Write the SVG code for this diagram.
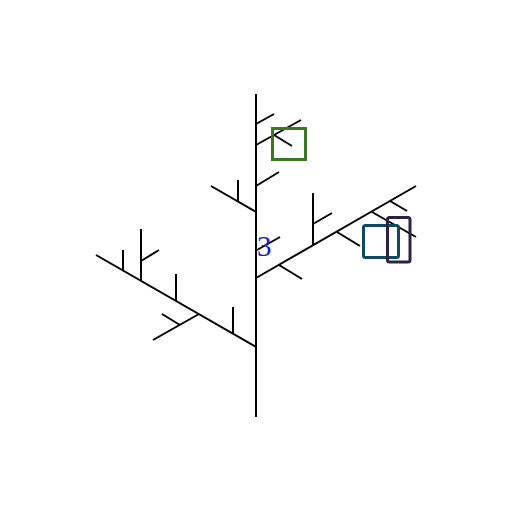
<svg xmlns="http://www.w3.org/2000/svg" width="512" height="512" viewBox="0 0 512 512">
<style>
.t{stroke:#000;stroke-width:2;fill:none;stroke-linecap:butt}
.box{fill:none;stroke-width:3}
</style>
<rect width="512" height="512" fill="#fff"/>
<g id="tree" class="t">
<line x1="256" y1="94" x2="256" y2="417"/>
<line x1="256" y1="124" x2="274" y2="114"/>
<line x1="256" y1="145" x2="301" y2="120"/>
<line x1="274" y1="135" x2="292" y2="146"/>
<line x1="256" y1="186" x2="279" y2="172"/>
<line x1="256" y1="212" x2="211" y2="186"/>
<line x1="238" y1="180" x2="238" y2="202"/>
<line x1="257" y1="250" x2="280" y2="237"/>
<line x1="256" y1="278" x2="416" y2="186"/>
<line x1="279" y1="265" x2="302" y2="279"/>
<line x1="313" y1="193" x2="313" y2="245"/>
<line x1="313" y1="224" x2="332" y2="213"/>
<line x1="337" y1="232" x2="360" y2="246"/>
<line x1="372" y1="212" x2="416" y2="237"/>
<line x1="390" y1="201" x2="407" y2="211"/>
<line x1="256" y1="347" x2="96" y2="255"/>
<line x1="233" y1="307" x2="233" y2="334"/>
<line x1="199" y1="314" x2="153" y2="340"/>
<line x1="180" y1="325" x2="162" y2="314"/>
<line x1="176" y1="274" x2="176" y2="301"/>
<line x1="141" y1="229" x2="141" y2="281"/>
<line x1="141" y1="261" x2="159" y2="250"/>
<line x1="123" y1="250" x2="123" y2="270"/>
</g>
<g id="green-box"><rect class="box" x="272.5" y="128.5" width="33" height="31" stroke="#3f7526"/></g>
<g id="teal-box"><rect class="box" x="363.5" y="225.5" width="35" height="32" rx="2" stroke="#0e4a5c"/></g>
<g id="purple-box"><rect class="box" x="387.5" y="217.5" width="22.5" height="44.5" rx="2" stroke="#2e2242"/></g>
<g id="label"><text x="257" y="256" font-family="Liberation Serif, serif" font-size="29" fill="#1c1cb4">3</text></g>
</svg>
